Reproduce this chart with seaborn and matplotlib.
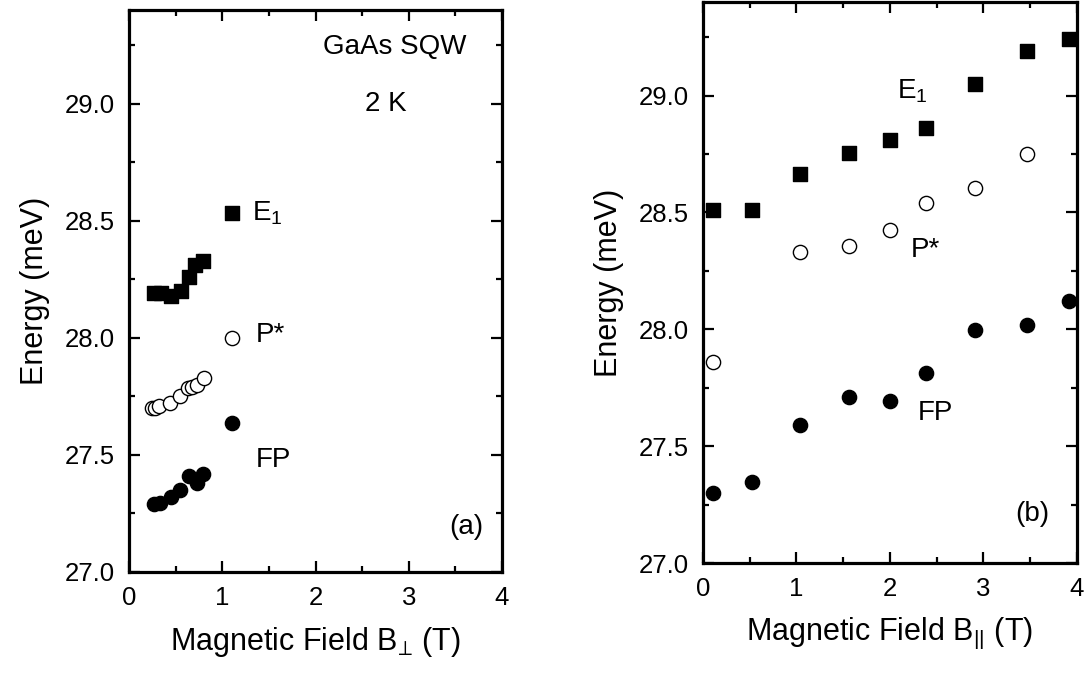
import matplotlib
matplotlib.use('Agg')
import matplotlib.pyplot as plt
from matplotlib.ticker import MultipleLocator, FormatStrFormatter
import pandas as pd
import seaborn as sns

# panel (a): B perpendicular
perp_e1_b = [0.27, 0.34, 0.45, 0.56, 0.64, 0.71, 0.79, 1.10]
perp_e1_e = [28.19, 28.19, 28.18, 28.20, 28.26, 28.31, 28.33, 28.535]
perp_p_b = [0.25, 0.28, 0.32, 0.44, 0.55, 0.63, 0.67, 0.73, 0.80, 1.10]
perp_p_e = [27.70, 27.70, 27.71, 27.72, 27.75, 27.785, 27.79, 27.80, 27.83, 28.00]
perp_fp_b = [0.27, 0.33, 0.45, 0.55, 0.64, 0.73, 0.79, 1.10]
perp_fp_e = [27.29, 27.295, 27.32, 27.35, 27.41, 27.38, 27.42, 27.635]

# panel (b): B parallel
par_e1_b = [0.11, 0.52, 1.04, 1.56, 2.0, 2.38, 2.91, 3.47, 3.91]
par_e1_e = [28.51, 28.51, 28.665, 28.755, 28.81, 28.86, 29.05, 29.19, 29.24]
par_p_b = [0.11, 1.04, 1.56, 2.0, 2.38, 2.91, 3.47]
par_p_e = [27.86, 28.33, 28.355, 28.425, 28.54, 28.605, 28.75]
par_fp_b = [0.11, 0.52, 1.04, 1.56, 2.0, 2.38, 2.91, 3.47, 3.91]
par_fp_e = [27.30, 27.345, 27.59, 27.71, 27.695, 27.815, 27.995, 28.02, 28.12]

sns.set_style('ticks')
plt.rcParams['font.family'] = ['Liberation Sans', 'DejaVu Sans']
plt.rcParams['mathtext.fontset'] = 'custom'
plt.rcParams['mathtext.rm'] = 'Liberation Sans'
plt.rcParams['mathtext.it'] = 'Liberation Sans'
plt.rcParams['text.color'] = 'black'
plt.rcParams['axes.labelcolor'] = 'black'

fig = plt.figure(figsize=(10.86, 6.73), dpi=100)
ax_a = fig.add_axes([0.1188, 0.1501, 0.3435, 0.835])
ax_b = fig.add_axes([0.6473, 0.1634, 0.3444, 0.8336])

MS = 105
TXT = 20


def draw_series(ax, b, e, marker, face):
    df = pd.DataFrame({'B': b, 'E': e})
    sns.scatterplot(data=df, x='B', y='E', ax=ax, marker=marker, s=MS,
                    color=face, edgecolor='black', linewidth=1.0, zorder=3)


def style_axes(ax, xlabel):
    ax.set_xlim(0, 4)
    ax.set_ylim(27.0, 29.4)
    ax.xaxis.set_major_locator(MultipleLocator(1))
    ax.xaxis.set_minor_locator(MultipleLocator(0.5))
    ax.yaxis.set_major_locator(MultipleLocator(0.5))
    ax.yaxis.set_minor_locator(MultipleLocator(0.25))
    ax.yaxis.set_major_formatter(FormatStrFormatter('%.1f'))
    ax.tick_params(which='both', direction='in', top=True, right=True,
                   labelsize=18.5, width=1.6, pad=10, color='black', labelcolor='black')
    ax.tick_params(which='major', length=8)
    ax.tick_params(which='minor', length=4)
    for sp in ax.spines.values():
        sp.set_visible(True)
        sp.set_linewidth(2.3)
        sp.set_color('black')
    ax.set_xlabel(xlabel, fontsize=22, labelpad=11)
    ax.set_ylabel('Energy (meV)', fontsize=22, labelpad=11)


draw_series(ax_a, perp_e1_b, perp_e1_e, 's', 'black')
draw_series(ax_a, perp_p_b, perp_p_e, 'o', 'white')
draw_series(ax_a, perp_fp_b, perp_fp_e, 'o', 'black')
style_axes(ax_a, r'Magnetic Field B$_{\mathregular{⊥}}$ (T)')
ax_a.text(2.08, 29.24, 'GaAs SQW', fontsize=TXT, va='center', ha='left')
ax_a.text(2.75, 29.0, '2 K', fontsize=TXT, va='center', ha='center')
ax_a.text(1.32, 28.53, r'E$_{\mathregular{1}}$', fontsize=TXT, va='center', ha='left')
ax_a.text(1.36, 28.01, 'P*', fontsize=TXT, va='center', ha='left')
ax_a.text(1.36, 27.48, 'FP', fontsize=TXT, va='center', ha='left')
ax_a.text(3.62, 27.19, '(a)', fontsize=TXT, va='center', ha='center')

draw_series(ax_b, par_e1_b, par_e1_e, 's', 'black')
draw_series(ax_b, par_p_b, par_p_e, 'o', 'white')
draw_series(ax_b, par_fp_b, par_fp_e, 'o', 'black')
style_axes(ax_b, r'Magnetic Field B$_{\mathregular{||}}$ (T)')
ax_b.text(2.08, 29.02, r'E$_{\mathregular{1}}$', fontsize=TXT, va='center', ha='left')
ax_b.text(2.22, 28.34, 'P*', fontsize=TXT, va='center', ha='left')
ax_b.text(2.30, 27.64, 'FP', fontsize=TXT, va='center', ha='left')
ax_b.text(3.52, 27.21, '(b)', fontsize=TXT, va='center', ha='center')

for ax in (ax_a, ax_b):
    leg = ax.get_legend()
    if leg is not None:
        leg.remove()

fig.savefig('out.png', dpi=100)
plt.close(fig)
